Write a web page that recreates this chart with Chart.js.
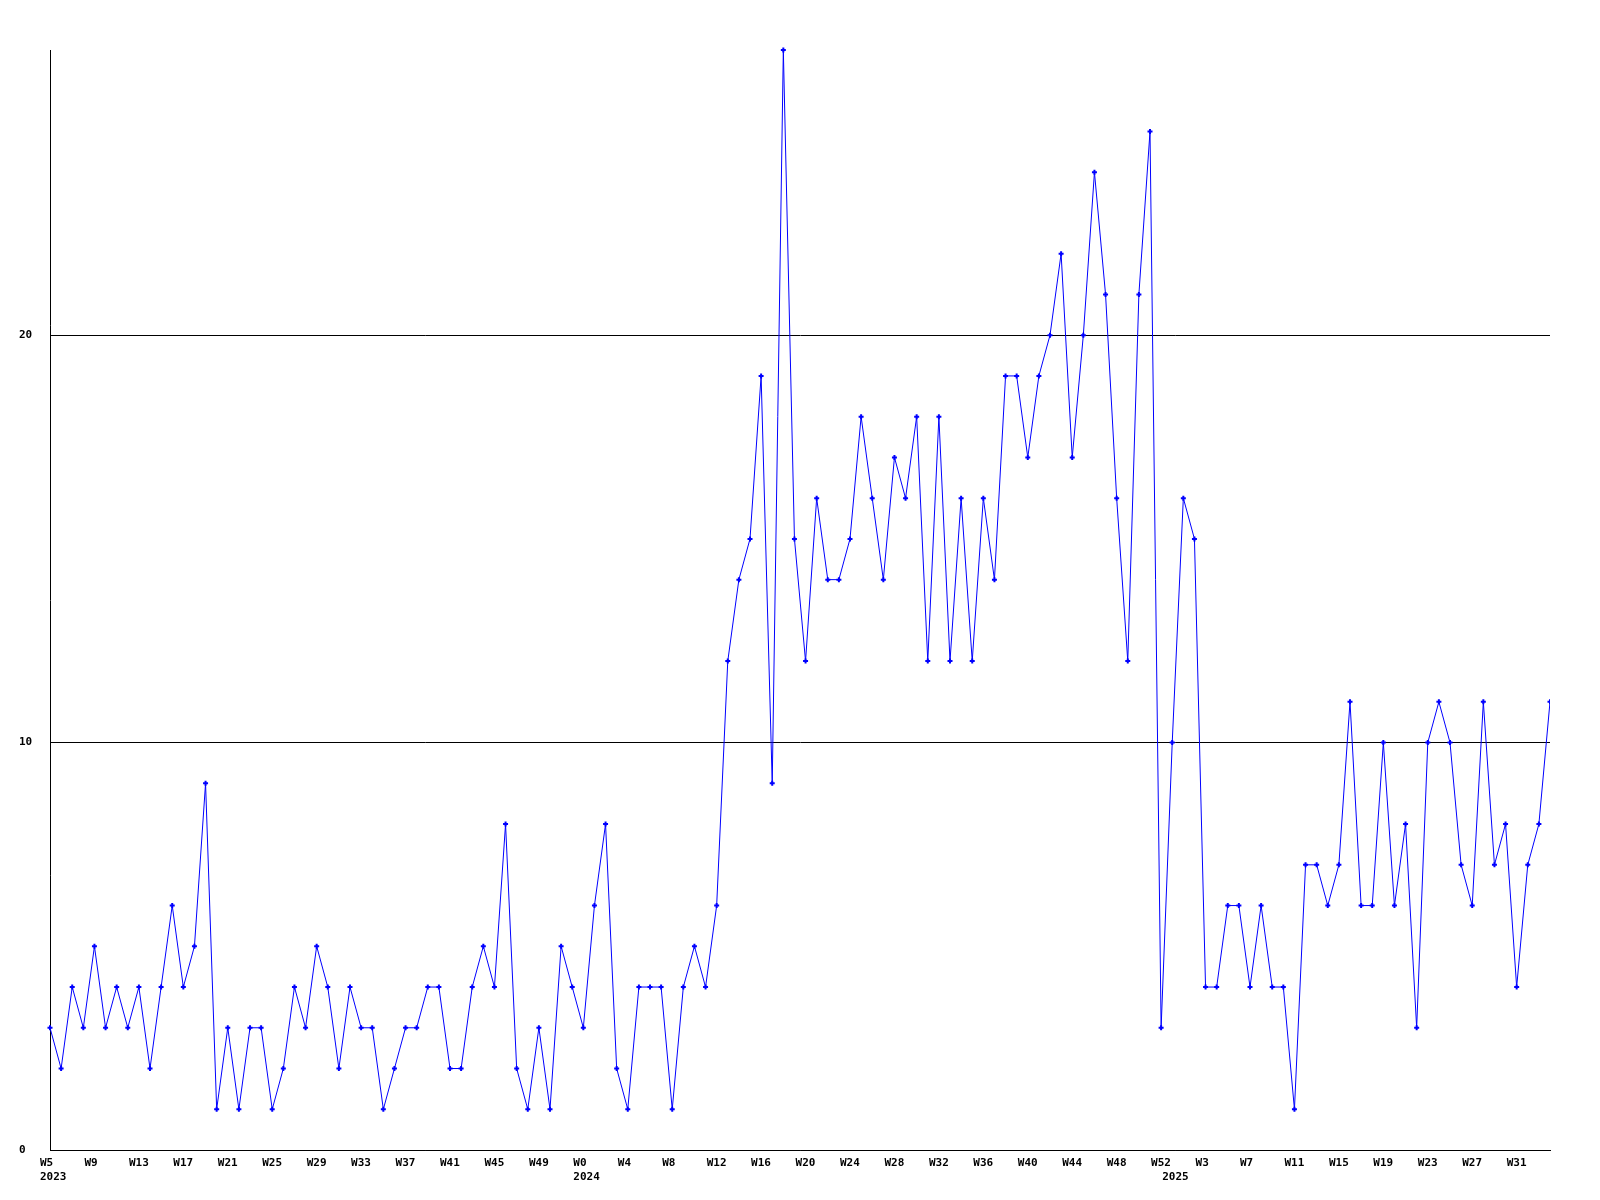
<!DOCTYPE html>
<html>
<head>
<meta charset="utf-8">
<script src="https://cdn.jsdelivr.net/npm/chart.js@4.4.1/dist/chart.umd.min.js"></script>
<style>
  html, body { margin: 0; padding: 0; background: #ffffff; }
  #wrap { width: 1600px; height: 1200px; }
  canvas { display: block; }
</style>
</head>
<body>
<div id="wrap"><canvas id="c" width="1600" height="1200"></canvas></div>
<script>
// ---- categories (ISO-like year-week) ----
const weeks2023 = ['2023-W5','2023-W6','2023-W7','2023-W8','2023-W9','2023-W10','2023-W11','2023-W12','2023-W13','2023-W14',
  '2023-W15','2023-W16','2023-W17','2023-W18','2023-W19','2023-W20','2023-W21','2023-W22','2023-W23','2023-W24',
  '2023-W25','2023-W26','2023-W27','2023-W28','2023-W29','2023-W30','2023-W31','2023-W32','2023-W33','2023-W34',
  '2023-W35','2023-W36','2023-W37','2023-W38','2023-W39','2023-W40','2023-W41','2023-W42','2023-W43','2023-W44',
  '2023-W45','2023-W46','2023-W47','2023-W48','2023-W49','2023-W50','2023-W51','2023-W52'];
const weeks2024 = ['2024-W0','2024-W1','2024-W2','2024-W3','2024-W4','2024-W5','2024-W6','2024-W7','2024-W8','2024-W9',
  '2024-W10','2024-W11','2024-W12','2024-W13','2024-W14','2024-W15','2024-W16','2024-W17','2024-W18','2024-W19',
  '2024-W20','2024-W21','2024-W22','2024-W23','2024-W24','2024-W25','2024-W26','2024-W27','2024-W28','2024-W29',
  '2024-W30','2024-W31','2024-W32','2024-W33','2024-W34','2024-W35','2024-W36','2024-W37','2024-W38','2024-W39',
  '2024-W40','2024-W41','2024-W42','2024-W43','2024-W44','2024-W45','2024-W46','2024-W47','2024-W48','2024-W49',
  '2024-W50','2024-W51','2024-W52'];
const weeks2025 = ['2025-W0','2025-W1','2025-W2','2025-W3','2025-W4','2025-W5','2025-W6','2025-W7','2025-W8','2025-W9',
  '2025-W10','2025-W11','2025-W12','2025-W13','2025-W14','2025-W15','2025-W16','2025-W17','2025-W18','2025-W19',
  '2025-W20','2025-W21','2025-W22','2025-W23','2025-W24','2025-W25','2025-W26','2025-W27','2025-W28','2025-W29',
  '2025-W30','2025-W31','2025-W32','2025-W33','2025-W34'];

// ---- series values ----
const values2023 = [3,2,4,3,5,3,4,3,4,2, 4,6,4,5,9,1,3,1,3,3, 1,2,4,3,5,4,2,4,3,3, 1,2,3,3,4,4,2,2,4,5, 4,8,2,1,3,1,5,4];
const values2024 = [3,6,8,2,1,4,4,4,1,4, 5,4,6,12,14,15,19,9,27,15, 12,16,14,14,15,18,16,14,17,16,
  18,12,18,12,16,12,16,14,19,19, 17,19,20,22,17,20,24,21,16,12, 21,25,3];
const values2025 = [10,16,15,4,4,6,6,4,6,4, 4,1,7,7,6,7,11,6,6,10, 6,8,3,10,11,10,7,6,11,7, 8,4,7,8,11];

// ---- tick labels ----
const yTickValues = [0, 10, 20];
const xTickEvery = 4;            // a week label every 4th category
const yearLabelAt = ['2023-W5', '2024-W0', '2025-W0'];

const categories = weeks2023.concat(weeks2024, weeks2025);
const values = values2023.concat(values2024, values2025);

const FONT = "'DejaVu Sans Mono', 'Liberation Mono', monospace";

new Chart(document.getElementById('c').getContext('2d'), {
  type: 'line',
  data: {
    labels: categories,
    datasets: [{
      data: values,
      borderColor: '#0000ff',
      borderWidth: 1,
      tension: 0,
      fill: false,
      pointStyle: 'cross',
      pointRadius: 2.5,
      pointBorderWidth: 2,
      pointBorderColor: '#0000ff',
      pointBackgroundColor: '#0000ff',
      pointHoverRadius: 2.5,
      clip: { left: 6, top: 6, right: 0, bottom: 6 }
    }]
  },
  options: {
    responsive: false,
    animation: false,
    devicePixelRatio: 1,
    events: [],
    layout: { padding: { left: 19, top: 50, right: 50, bottom: 0 } },
    plugins: { legend: { display: false }, tooltip: { enabled: false }, title: { display: false } },
    scales: {
      x: {
        type: 'category',
        offset: false,
        afterFit: (s) => { s.height = 50; },
        grid: { display: false, drawTicks: false },
        border: { display: true, color: '#000000', width: 1 },
        ticks: {
          autoSkip: false,
          maxRotation: 0,
          minRotation: 0,
          align: 'start',
          labelOffset: -10,
          padding: 6,
          color: '#000000',
          font: { family: FONT, size: 11, weight: 'bold', lineHeight: '14px' },
          callback: function (value, index) {
            const cat = categories[index];
            const parts = cat.split('-');
            const isTick = index % xTickEvery === 0;
            const isYear = yearLabelAt.indexOf(cat) !== -1;
            if (isTick && isYear) return [parts[1], parts[0]];
            if (isTick) return parts[1];
            if (isYear) return ['', parts[0]];
            return '';
          }
        }
      },
      y: {
        min: 0,
        max: 27,
        afterFit: (s) => { s.width = 31; },
        afterBuildTicks: (s) => { s.ticks = yTickValues.map(v => ({ value: v })); },
        grid: { display: true, drawTicks: false, color: '#000000', lineWidth: 1 },
        border: { display: true, color: '#000000', width: 1 },
        ticks: {
          crossAlign: 'far',
          padding: 0,
          color: '#000000',
          font: { family: FONT, size: 11, weight: 'bold' }
        }
      }
    }
  }
});
</script>
</body>
</html>
